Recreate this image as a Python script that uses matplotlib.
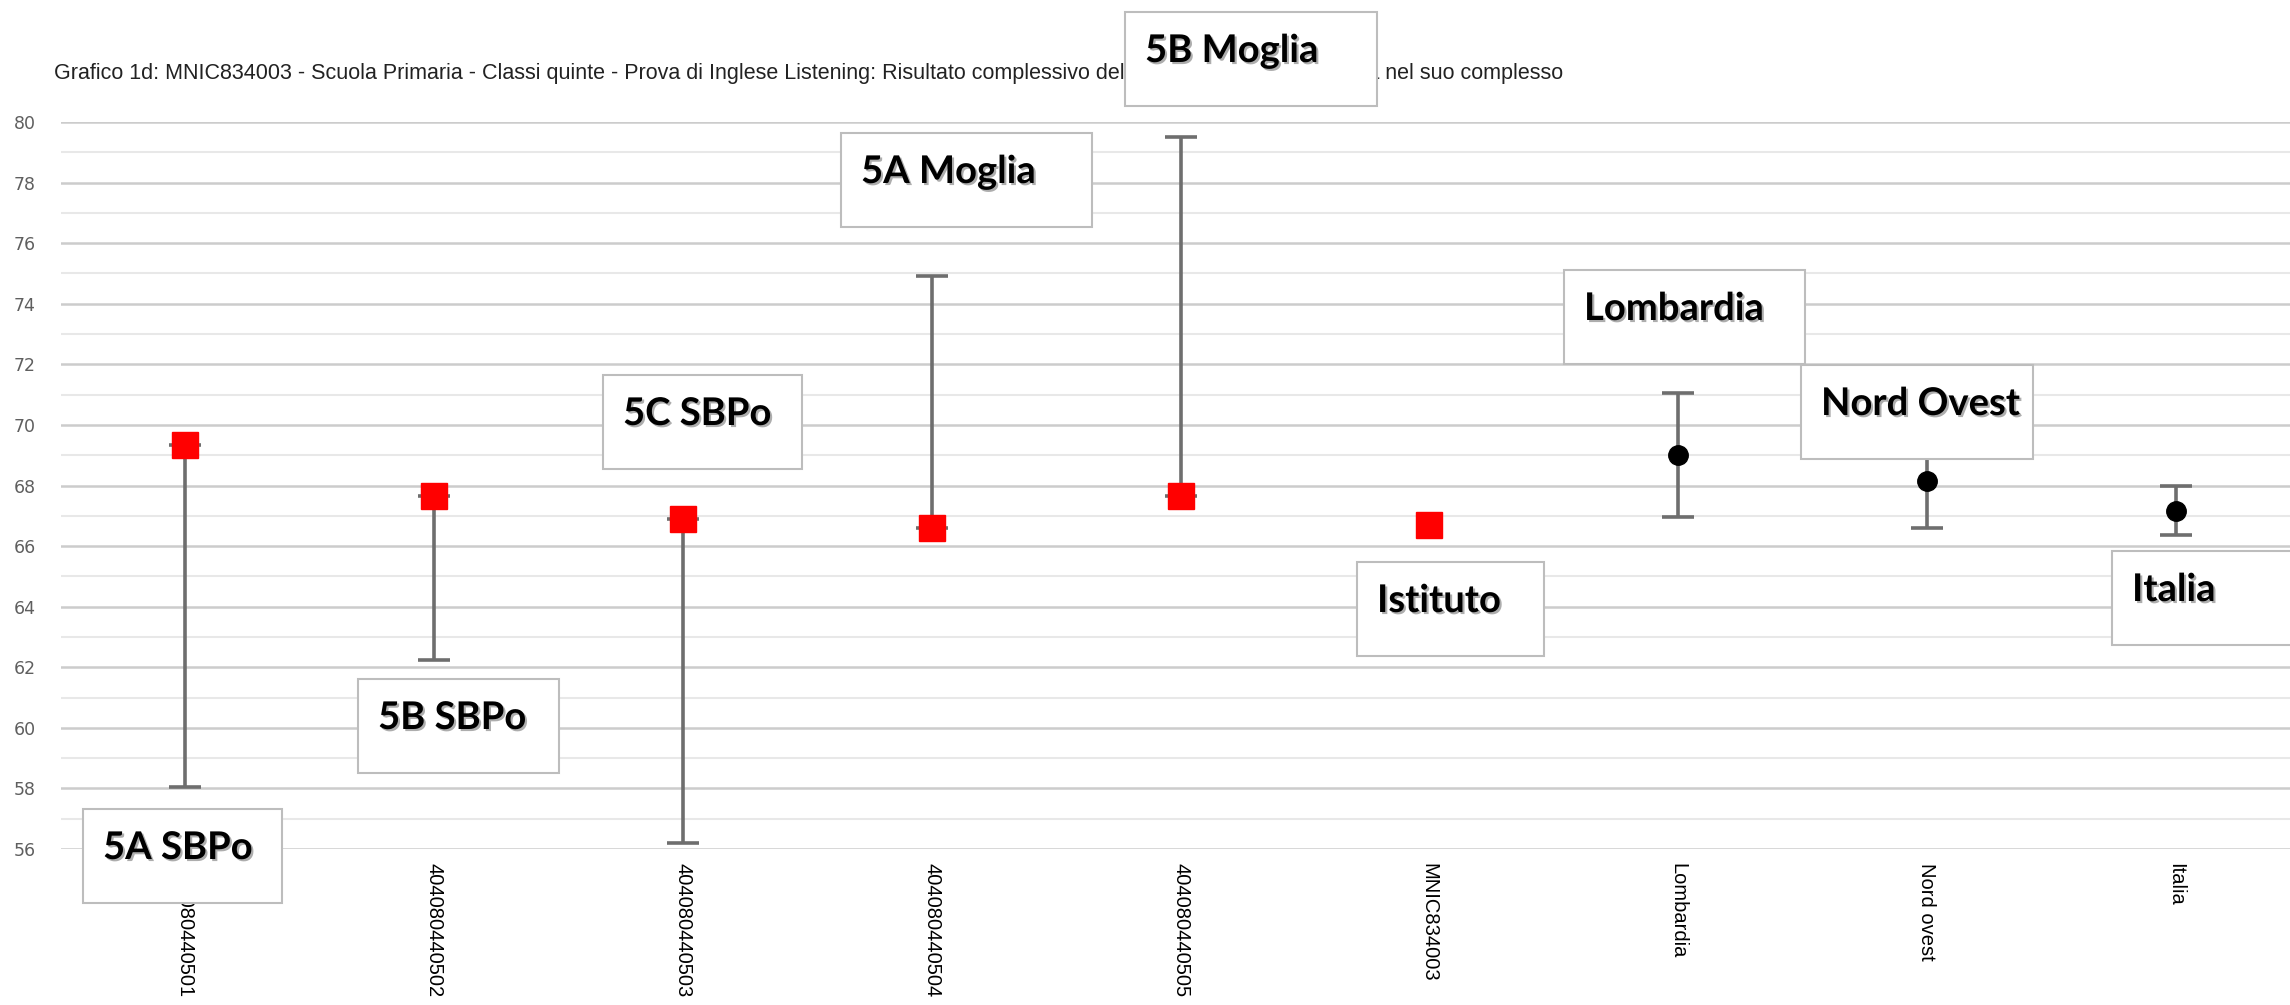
import matplotlib
matplotlib.use('Agg')
import matplotlib.pyplot as plt
import matplotlib.patheffects as pe
from matplotlib.patches import Rectangle
import numpy as np

# Data
categories = ["404080440501", "404080440502", "404080440503", "404080440504",
              "404080440505", "MNIC834003", "Lombardia", "Nord ovest", "Italia"]
means = [69.35, 67.65, 66.9, 66.6, 67.65, 66.7, 69.0, 68.15, 67.15]
lower = [58.05, 62.25, 56.2, 66.6, 67.65, np.nan, 66.95, 66.6, 66.35]
upper = [69.35, 67.65, 66.9, 74.9, 79.5, np.nan, 71.05, 69.6, 68.0]
is_school = [True, True, True, True, True, True, False, False, False]

yticks = list(range(56, 81, 2))

title = ("Grafico 1d: MNIC834003 - Scuola Primaria - Classi quinte - Prova di Inglese "
         "Listening: Risultato complessivo delle sue classi e della scuola nel suo complesso")

# Overlay text boxes (pasted on top of the chart)
box_labels = ["5A SBPo", "5B SBPo", "5C SBPo", "5A Moglia", "5B Moglia",
              "Istituto", "Lombardia", "Nord Ovest", "Italia"]
# left, top, width in pixels
box_pos = [(83, 809, 199), (358, 679, 201), (603, 375, 199), (841, 133, 251),
           (1125, 12, 252), (1357, 562, 187), (1564, 270, 241), (1801, 365, 232),
           (2112, 551, 190)]
BOX_H = 94

W, H = 2290, 1005
fig = plt.figure(figsize=(W / 100, H / 100), dpi=100)
ax = fig.add_axes([61 / W, 1 - 849 / H, (2300 - 61) / W, (849 - 122) / H])

x = np.arange(len(categories))
m = np.array(means)
lo = np.array(lower)
hi = np.array(upper)
yerr = np.vstack([m - lo, hi - m])

ax.errorbar(x, m, yerr=yerr, fmt='none', ecolor='#6e6e6e', elinewidth=2.6,
            capsize=11.5, capthick=2.6, zorder=3, clip_on=False)

sq = np.array(is_school)
ax.plot(x[sq], m[sq], 's', color='#ff0000', markersize=19, zorder=4, clip_on=False)
ax.plot(x[~sq], m[~sq], 'o', color='black', markersize=14, zorder=4, clip_on=False)

ax.set_xlim(-0.5, len(categories) - 0.5)
ax.set_ylim(56, 80)
ax.set_yticks(yticks)
ax.set_yticks(range(57, 80, 2), minor=True)
ax.grid(axis='y', which='major', color='#cccccc', linewidth=1.8)
ax.grid(axis='y', which='minor', color='#e8e8e8', linewidth=1.5)
ax.set_axisbelow(True)
for s in ax.spines.values():
    s.set_visible(False)

ax.set_xticks(x)
ax.set_xticklabels(categories, rotation=270, fontsize=14.5, family='Liberation Sans',
                   va='top', ha='center')
ax.tick_params(axis='x', length=0, pad=10)
ax.tick_params(axis='y', which='both', length=0, pad=18, labelsize=12.5,
               labelcolor='#5f5f5f')

fig.text(54 / W, 1 - 73 / H, title, fontsize=15.5, color='#222222',
         family='Liberation Sans', va='center', ha='left')

shadow = [pe.SimplePatchShadow(offset=(1.5, -1.5), shadow_rgbFace='#777777', alpha=0.6),
          pe.Normal()]
for label, (left, top, bw) in zip(box_labels, box_pos):
    rect = Rectangle((left / W, 1 - (top + BOX_H) / H), bw / W, BOX_H / H,
                     transform=fig.transFigure, facecolor='white',
                     edgecolor='#bdbdbd', linewidth=1.5, zorder=10)
    fig.add_artist(rect)
    t = fig.text((left + 20) / W, 1 - (top + 39) / H, label, fontsize=27.5,
                 fontweight='bold', family=['Lato', 'DejaVu Sans'], color='black',
                 va='center', ha='left', zorder=11)
    t.set_path_effects(shadow)

fig.savefig('out.png', dpi=100)
